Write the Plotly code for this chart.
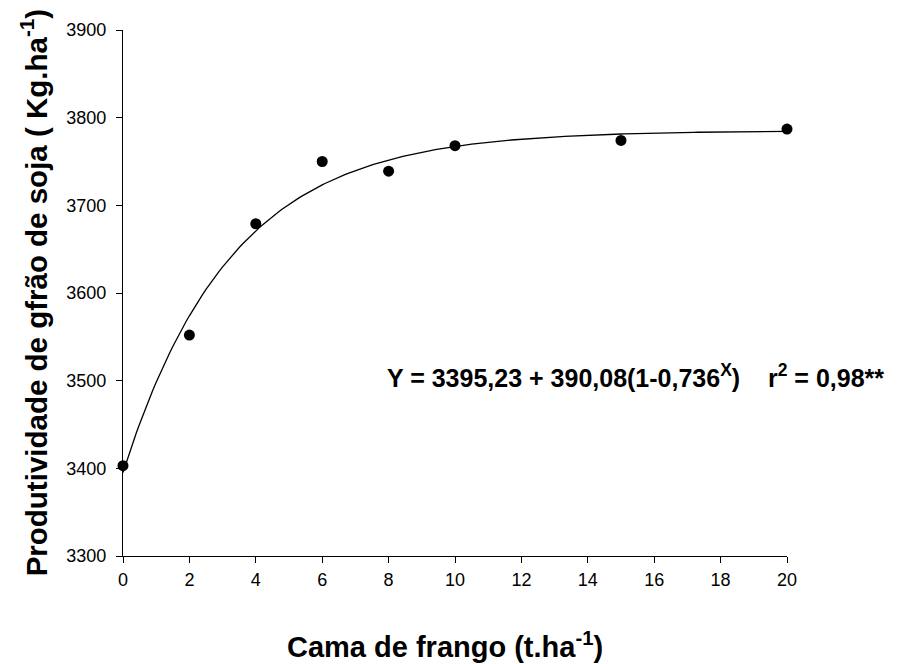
import plotly.graph_objects as go

dose = [0, 2, 4, 6, 8, 10, 15, 20]
yield_obs = [3403, 3552, 3679, 3750, 3739, 3768, 3774, 3787]

# Fitted model shown on the chart: Y = a + b(1 - c^X)
a_coef = 3395.23
b_coef = 390.08
c_coef = 0.736
curve_x = [i * 0.1 for i in range(0, 201)]
curve_y = [a_coef + b_coef * (1 - c_coef ** x) for x in curve_x]

x_ticks = [0, 2, 4, 6, 8, 10, 12, 14, 16, 18, 20]
y_ticks = [3300, 3400, 3500, 3600, 3700, 3800, 3900]

FONT = "Arial, Liberation Sans, Helvetica, sans-serif"

fig = go.Figure()
fig.add_trace(go.Scatter(x=curve_x, y=curve_y, mode="lines",
                         line=dict(color="black", width=1.3),
                         showlegend=False, hoverinfo="skip"))
fig.add_trace(go.Scatter(x=dose, y=yield_obs, mode="markers",
                         marker=dict(color="black", size=11),
                         cliponaxis=False, showlegend=False))

fig.update_xaxes(range=[0, 20], tickvals=x_ticks, showline=True, linecolor="black",
                 linewidth=1.3, ticks="outside", ticklen=6, tickcolor="black",
                 tickwidth=1.3, showgrid=False, zeroline=False,
                 ticklabelstandoff=1,
                 tickfont=dict(family=FONT, size=18, color="black"))
fig.update_yaxes(range=[3300, 3900], tickvals=y_ticks, showline=True, linecolor="black",
                 linewidth=1.3, ticks="outside", ticklen=6, tickcolor="black",
                 tickwidth=1.3, showgrid=False, zeroline=False,
                 ticklabelstandoff=6,
                 tickfont=dict(family=FONT, size=18, color="black"))

nb = "\u00a0"
eq = ("Y = 3395,23 + 390,08(1-0,736<sup>X</sup>)" + nb * 4 +
      "r<sup>2</sup> = 0,98**")
fig.add_annotation(x=7.9, y=3505, xref="x", yref="y", text="<b>" + eq + "</b>",
                   showarrow=False, xanchor="left", yanchor="middle",
                   font=dict(family=FONT, size=25, color="black"))

fig.add_annotation(x=0.485, y=-0.17, xref="paper", yref="paper",
                   text="<b>Cama de frango (t.ha<sup>-1</sup>)</b>",
                   showarrow=False, xanchor="center", yanchor="middle",
                   font=dict(family=FONT, size=29, color="black"))
fig.add_annotation(x=-0.135, y=0.5, xref="paper", yref="paper",
                   text="<b>Produtividade de gfrão de soja ( Kg.ha<sup>-1</sup>)</b>",
                   showarrow=False, xanchor="center", yanchor="middle", textangle=-90,
                   font=dict(family=FONT, size=29.5, color="black"))

# the page body adds an 8px offset, so the figure is sized and margined to compensate
fig.update_layout(width=892, height=656, plot_bgcolor="white", paper_bgcolor="white",
                  margin=dict(l=115, r=113, t=18, b=108, pad=0),
                  showlegend=False)

fig.write_html("out.html")
